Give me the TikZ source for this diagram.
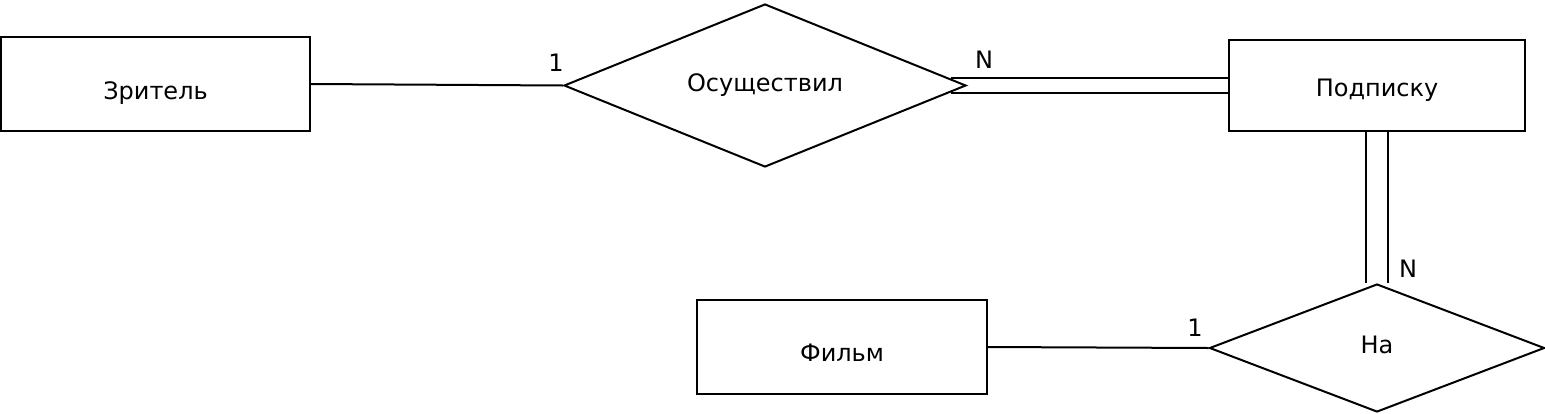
\documentclass[tikz,border=0pt]{standalone}
\usepackage{fontspec}
\setmainfont{DejaVu Sans}
\usetikzlibrary{shapes.geometric,backgrounds}

\begin{document}
\begin{tikzpicture}[x=0.5pt, y=-0.5pt,
      line width=1pt,
      font=\fontsize{12}{14}\selectfont,
      entity/.style={rectangle,draw,inner sep=0pt,text depth=0pt},
      relation/.style={diamond,draw,aspect=2.5,inner sep=0pt,text depth=0pt},
      card/.style={inner sep=0pt},
      link/.style={line width=1pt},
      twoline/.style={link,double,double distance=#1}]
    \useasboundingbox (0,0) rectangle (1545,413);
    % entities
    \node[entity,minimum width=154.5pt,minimum height=47pt,text height=15pt] (viewer) at (155.5,84) {Зритель};
    \node[entity,minimum width=148pt,minimum height=45.5pt,text height=10.5pt] (subscr) at (1377,85.5) {Подписку};
    \node[entity,minimum width=145pt,minimum height=47pt,text height=14pt] (film) at (842,347) {Фильм};
    % relations
    \node[relation,minimum width=201pt,minimum height=81.5pt,text height=6pt] (made) at (765,85.5) {Осуществил};
    \node[relation,minimum width=167.5pt,minimum height=64pt,text height=5pt] (on) at (1377,348) {На};
    % links
    \begin{scope}[on background layer]
    \draw[link] (viewer.east) -- (made.west);
    \draw[twoline=6.5pt,shorten <=-8pt] (made.east) -- (subscr.west);
    \draw[twoline=10pt] (subscr.south) -- (on.north);
    \draw[link] (film.east) -- (on.west);
    \end{scope}
    % cardinalities
    \node[card] (c1) at (556,63) {1};
    \node[card] (c2) at (984,60) {N};
    \node[card] (c3) at (1408,269) {N};
    \node[card] (c4) at (1195,328) {1};
\end{tikzpicture}
\end{document}
